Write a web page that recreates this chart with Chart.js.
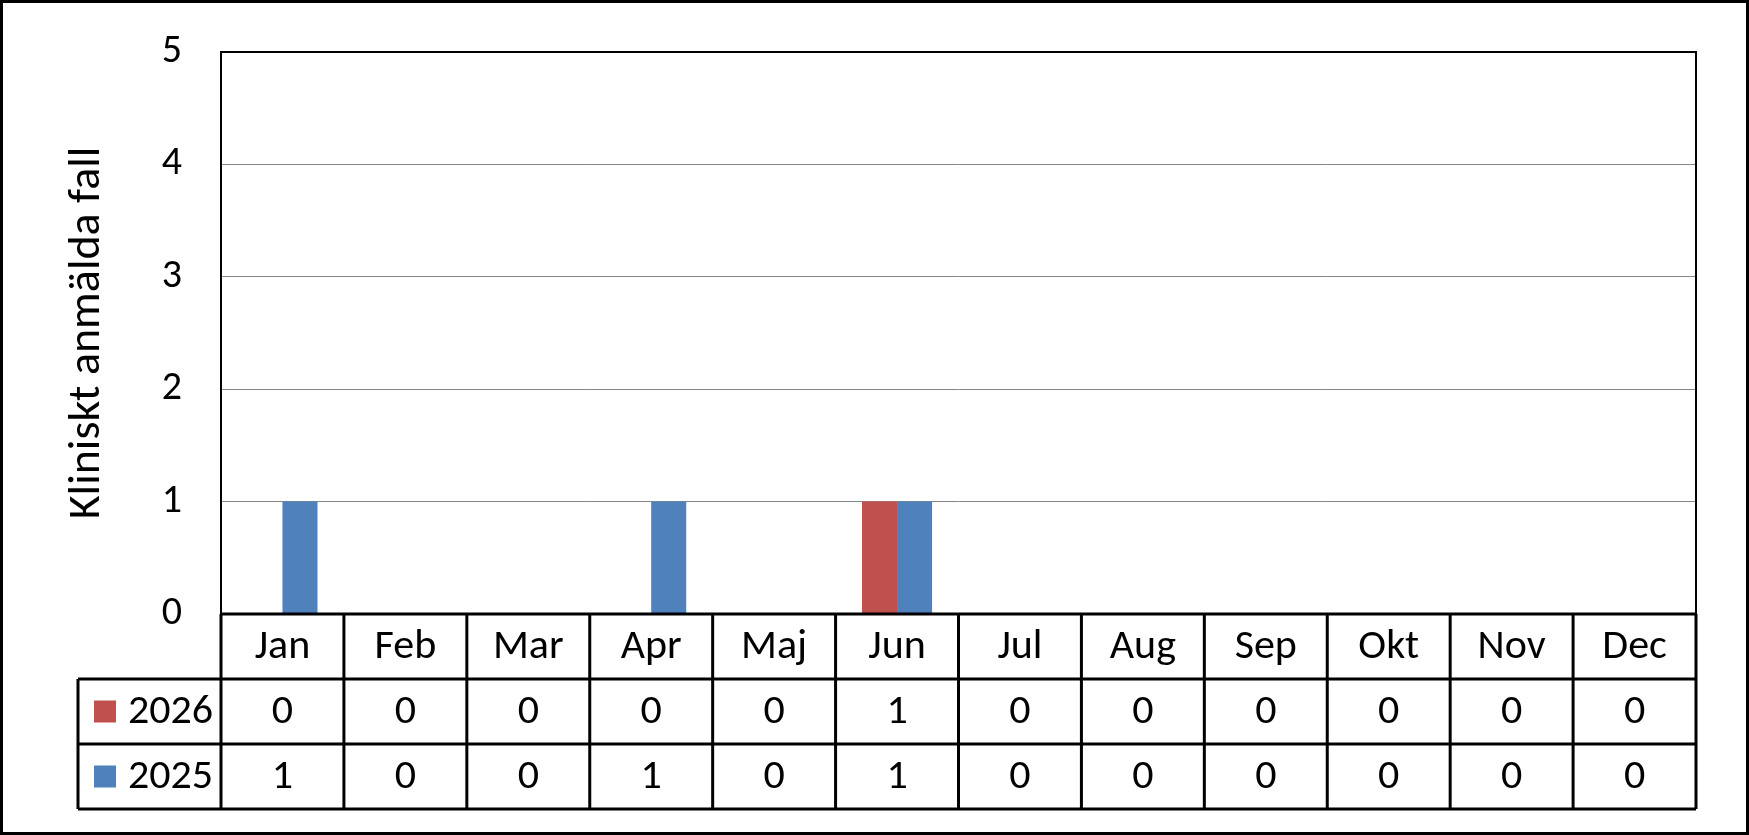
<!DOCTYPE html>
<html>
<head>
<meta charset="utf-8">
<script src="https://cdn.jsdelivr.net/npm/chart.js@4/dist/chart.umd.min.js"></script>
<style>
  html, body { margin: 0; padding: 0; background: #fff; }
  #wrap { width: 1749px; height: 835px; }
</style>
</head>
<body>
<div id="wrap"><canvas id="chart"></canvas></div>
<script>
// data
const months = ['Jan','Feb','Mar','Apr','Maj','Jun','Jul','Aug','Sep','Okt','Nov','Dec'];
const years = ['2026', '2025'];
const cases2026 = [0, 0, 0, 0, 0, 1, 0, 0, 0, 0, 0, 0];
const cases2025 = [1, 0, 0, 1, 0, 1, 0, 0, 0, 0, 0, 0];
const yTitle = 'Kliniskt anmälda fall';

const FONT = 'Carlito, Calibri, Lato, "Open Sans", sans-serif';
const RED = '#C0504D';
const BLUE = '#4F81BD';

// data table under the plot, drawn from the same arrays
const tablePlugin = {
  id: 'dataTable',
  afterDraw(chart) {
    const { ctx, chartArea: a, scales: { x } } = chart;
    const step = x.getPixelForValue(1) - x.getPixelForValue(0);
    const rowH = 65;
    const top = a.bottom;
    const tableLeft = 78;
    const rows = [
      { label: years[0], color: RED, vals: cases2026 },
      { label: years[1], color: BLUE, vals: cases2025 }
    ];
    const bottom = top + rowH * (rows.length + 1);

    ctx.save();
    ctx.strokeStyle = '#000';
    ctx.lineWidth = 2;

    // plot frame
    ctx.strokeRect(a.left, a.top, a.right - a.left, a.bottom - a.top);

    ctx.lineWidth = 3;
    ctx.beginPath();
    // horizontal lines
    ctx.moveTo(a.left, top); ctx.lineTo(a.right, top);
    for (let r = 1; r <= rows.length + 1; r++) {
      const yy = top + rowH * r;
      ctx.moveTo(tableLeft, yy); ctx.lineTo(a.right, yy);
    }
    ctx.moveTo(tableLeft, top + rowH); ctx.lineTo(tableLeft, bottom);
    // column lines
    for (let i = 0; i <= months.length; i++) {
      const xx = x.getPixelForValue(0) - step / 2 + i * step;
      ctx.moveTo(xx, top); ctx.lineTo(xx, bottom);
    }
    ctx.stroke();

    ctx.fillStyle = '#000';
    ctx.font = '42px ' + FONT;
    ctx.textAlign = 'center';
    ctx.textBaseline = 'middle';
    months.forEach((m, i) => {
      ctx.fillText(m, x.getPixelForValue(i), top + rowH / 2 + 1);
    });
    rows.forEach((row, r) => {
      const cy = top + rowH * (r + 1) + rowH / 2 + 1;
      ctx.textAlign = 'center';
      row.vals.forEach((v, i) => ctx.fillText(String(v), x.getPixelForValue(i), cy));
      ctx.fillStyle = row.color;
      ctx.fillRect(94, cy - 12, 22, 22);
      ctx.fillStyle = '#000';
      ctx.textAlign = 'left';
      ctx.fillText(row.label, 128, cy);
    });

    // outer frame
    ctx.lineWidth = 3;
    ctx.strokeRect(1.5, 1.5, chart.width - 3, chart.height - 3);
    ctx.restore();
  }
};

new Chart(document.getElementById('chart'), {
  type: 'bar',
  data: {
    labels: months,
    datasets: [
      { label: years[0], data: cases2026, backgroundColor: RED },
      { label: years[1], data: cases2025, backgroundColor: BLUE }
    ]
  },
  options: {
    responsive: true,
    maintainAspectRatio: false,
    animation: false,
    datasets: { bar: { categoryPercentage: 0.57, barPercentage: 1 } },
    layout: { padding: { left: 0, top: 52, right: 53, bottom: 221 } },
    plugins: { legend: { display: false }, tooltip: { enabled: false } },
    scales: {
      x: { display: false },
      y: {
        min: 0, max: 5,
        afterFit: s => { s.width = 221; s.paddingTop = 0; s.paddingBottom = 0; },
        ticks: { stepSize: 1, padding: 39, color: '#000', font: { family: FONT, size: 40 } },
        grid: { color: '#868686', lineWidth: 1, drawTicks: false },
        border: { display: false },
        title: {
          display: true, text: yTitle, color: '#000',
          font: { family: FONT, size: 46 },
          padding: { top: 60, bottom: 0 }
        }
      }
    }
  },
  plugins: [tablePlugin]
});
</script>
</body>
</html>
